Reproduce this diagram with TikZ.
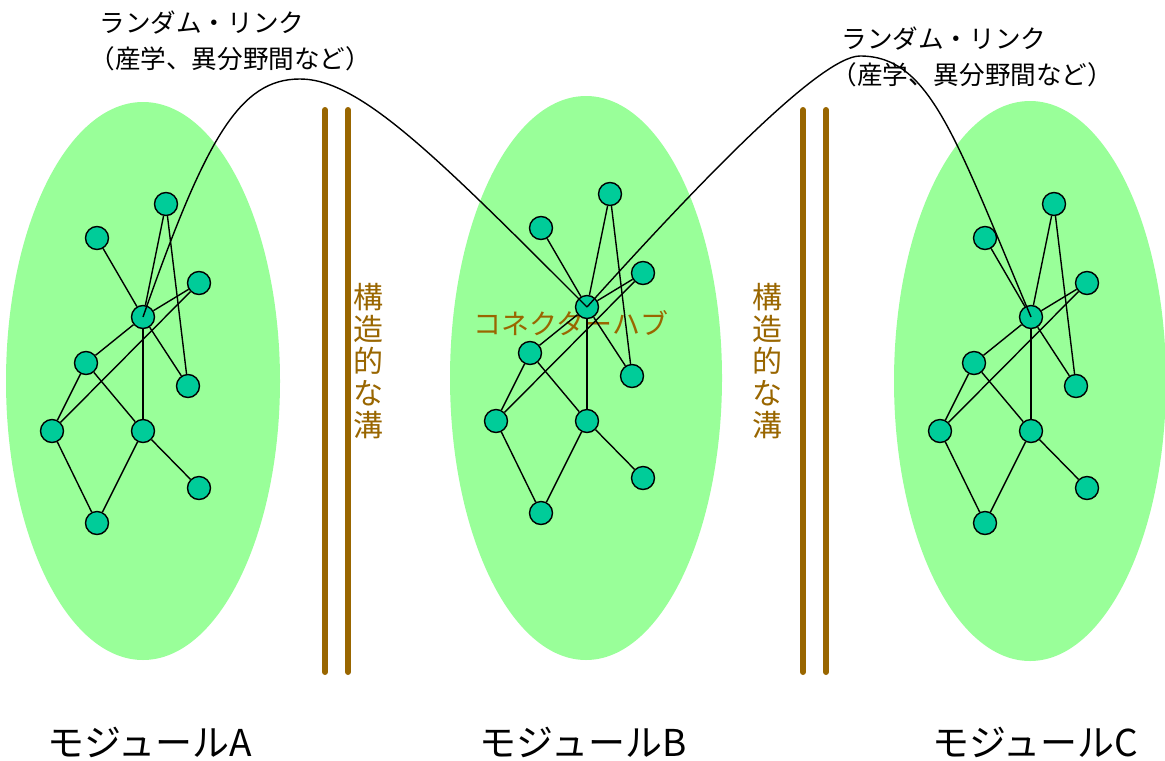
\documentclass[tikz,border=0pt]{standalone}
\usepackage{fontspec}
\setmainfont{Noto Sans CJK JP}
\definecolor{modgreen}{HTML}{99FF99}
\definecolor{vtxgreen}{HTML}{00CC99}
\definecolor{groovebrown}{HTML}{996600}

\begin{document}
\begin{tikzpicture}[
			x=0.5pt, y=-0.5pt,
			module/.style={fill=modgreen},
			vtx/.style={circle, draw, fill=vtxgreen, minimum size=11.5pt, inner sep=0pt, line width=0.7pt},
			link/.style={line width=0.7pt},
			rlink/.style={line width=0.7pt},
			groove/.style={draw=groovebrown, line width=3pt, line cap=round},
			gtext/.style={text=groovebrown, font=\fontsize{15}{16}\selectfont, align=center, inner sep=0pt},
			linklabel/.style={font=\fontsize{12.8}{18}\selectfont, align=left, anchor=north west, inner sep=0pt},
			modlabel/.style={font=\fontsize{18.5}{20}\selectfont, inner sep=0pt}
			]
			\useasboundingbox (0,0) rectangle (1165,760);
			
			% Modules
			\fill[module] (143,381) ellipse [x radius=137, y radius=279];
			\fill[module] (586,378) ellipse [x radius=136, y radius=282];
			\fill[module] (1030,381) ellipse [x radius=136, y radius=280];
			
			% Grooves
			\draw[groove] (325,110) -- (325,672);
			\draw[groove] (348,110) -- (348,672);
			\draw[groove] (803,110) -- (803,672);
			\draw[groove] (826,110) -- (826,672);
			\node[gtext] (grooveAB) at (368,361) {構\\造\\的\\な\\溝};
			\node[gtext] (grooveBC) at (767,361) {構\\造\\的\\な\\溝};
			\node[gtext, font=\fontsize{14}{16}\selectfont] (hubtext) at (571,323) {コネクターハブ};
			
			% Nodes and links of each module
			\foreach \m/\dx/\dy in {A/0/0, B/444/-10, C/888/0} {
				\foreach \n/\x/\y in {1/166/204, 2/97/238, 3/199/283, hub/143/317, 5/86/363,
					6/188/386, 7/52/431, 8/143/431, 9/199/488, 10/97/523}
					\node[vtx] (\m-\n) at ({\x+\dx},{\y+\dy}) {};
				\foreach \s/\t in {2/hub, 1/hub, 1/6, 3/hub, 3/7, hub/5, hub/6, hub/8,
					5/7, 5/8, 7/10, 8/10, 8/9}
					\draw[link] (\m-\s) -- (\m-\t);
			}
			
			% Random links
			\draw[rlink] (A-hub.center) .. controls (206,137) and (240,79) .. (300,79)
				.. controls (360,79) and (437,157) .. (B-hub.center);
			\draw[rlink] (B-hub.center) .. controls (695,187) and (820,56) .. (860,56)
				.. controls (930,56) and (955,137) .. (C-hub.center);
			
			% Labels
			\node[linklabel] (rlAB) at (89,10) {\hspace*{5pt}ランダム・リンク\\（産学、異分野間など）};
			\node[linklabel] (rlBC) at (831,26) {\hspace*{5pt}ランダム・リンク\\（産学、異分野間など）};
			\node[modlabel] (modA) at (150,742) {モジュールA};
			\node[modlabel] (modB) at (583,742) {モジュールB};
			\node[modlabel] (modC) at (1035,742) {モジュールC};
		\end{tikzpicture}
\end{document}
